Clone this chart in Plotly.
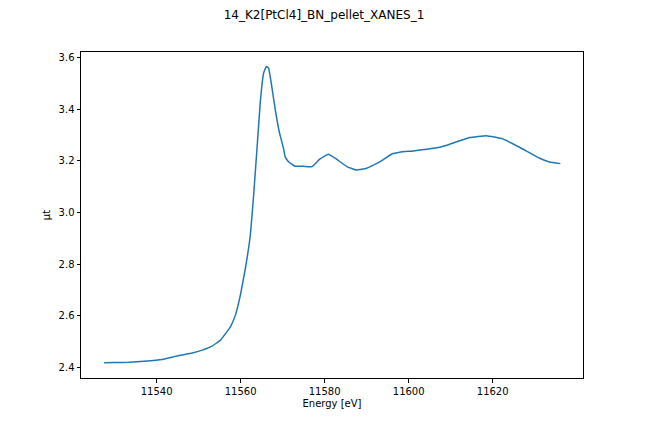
import plotly.graph_objects as go

energy = [11527.5, 11530.0, 11533.4, 11537.0, 11541.35, 11545.3, 11548.5, 11550.85, 11553.2,
          11555.19, 11557.57, 11558.75, 11559.94, 11561.13, 11562.31, 11563.10, 11563.90,
          11564.69, 11565.47, 11566.11, 11566.66, 11567.47, 11568.25, 11569.27, 11570.2,
          11570.6, 11571.4, 11572.8, 11575.0, 11577.0, 11578.9, 11580.9, 11582.5, 11585.3,
          11587.6, 11590.0, 11593.2, 11596.0, 11597.9, 11601.1, 11604.3, 11607.4, 11609.8,
          11614.5, 11618.5, 11622.4, 11626.4, 11631.2, 11633.5, 11636.1]
mu = [2.4167, 2.4178, 2.4194, 2.4230, 2.4299, 2.4454, 2.4550, 2.4660, 2.4816,
      2.5049, 2.5565, 2.6019, 2.6796, 2.7833, 2.9126, 3.0680, 3.2493,
      3.4303, 3.5406, 3.5662, 3.5600, 3.4823, 3.3981, 3.3076, 3.2490,
      3.2167, 3.1970, 3.1806, 3.1790, 3.1780, 3.2080, 3.2260, 3.2105, 3.1780,
      3.1650, 3.1717, 3.1970, 3.2270, 3.2338, 3.2388, 3.2454, 3.2532, 3.2650,
      3.2905, 3.2980, 3.2854, 3.2532, 3.2105, 3.1960, 3.1895]

x_ticks = [11540, 11560, 11580, 11600, 11620]
x_tick_labels = ["11540", "11560", "11580", "11600", "11620"]
y_ticks = [2.4, 2.6, 2.8, 3.0, 3.2, 3.4, 3.6]

OFF = 8  # browser default body margin

fig = go.Figure()
fig.add_trace(go.Scatter(x=energy, y=mu, mode="lines",
                         line=dict(color="#1f77b4", width=1.5, shape="spline", smoothing=0.3),
                         showlegend=False))

axis_common = dict(showline=True, linecolor="black", linewidth=1, mirror=True,
                   ticks="outside", ticklen=3.5, tickwidth=1, tickcolor="black",
                   showgrid=False, zeroline=False,
                   tickfont=dict(family="DejaVu Sans", size=10, color="black"))

fig.update_layout(
    width=648, height=432,
    margin=dict(l=81 - OFF, r=65 + OFF, t=52 - OFF, b=54 + OFF, autoexpand=False),
    paper_bgcolor="white", plot_bgcolor="white",
    font=dict(family="DejaVu Sans", size=10, color="black"),
    title=dict(text="14_K2[PtCl4]_BN_pellet_XANES_1", x=(324 - OFF) / 648, xanchor="center",
               xref="container",
               y=1 - (15 - OFF) / 432, yanchor="middle", yref="container",
               font=dict(family="DejaVu Sans", size=12, color="black")),
    xaxis=dict(range=[11522.0, 11641.5], tickvals=x_ticks, ticktext=x_tick_labels,
               title=dict(text="Energy [eV]", standoff=4,
                          font=dict(family="DejaVu Sans", size=10, color="black")),
               **axis_common),
    yaxis=dict(range=[2.358, 3.6225], tickvals=y_ticks, tickformat=".1f",
               title=dict(text="μt", standoff=6,
                          font=dict(family="DejaVu Sans", size=10, color="black")),
               **axis_common),
)

fig.write_html("out.html")
